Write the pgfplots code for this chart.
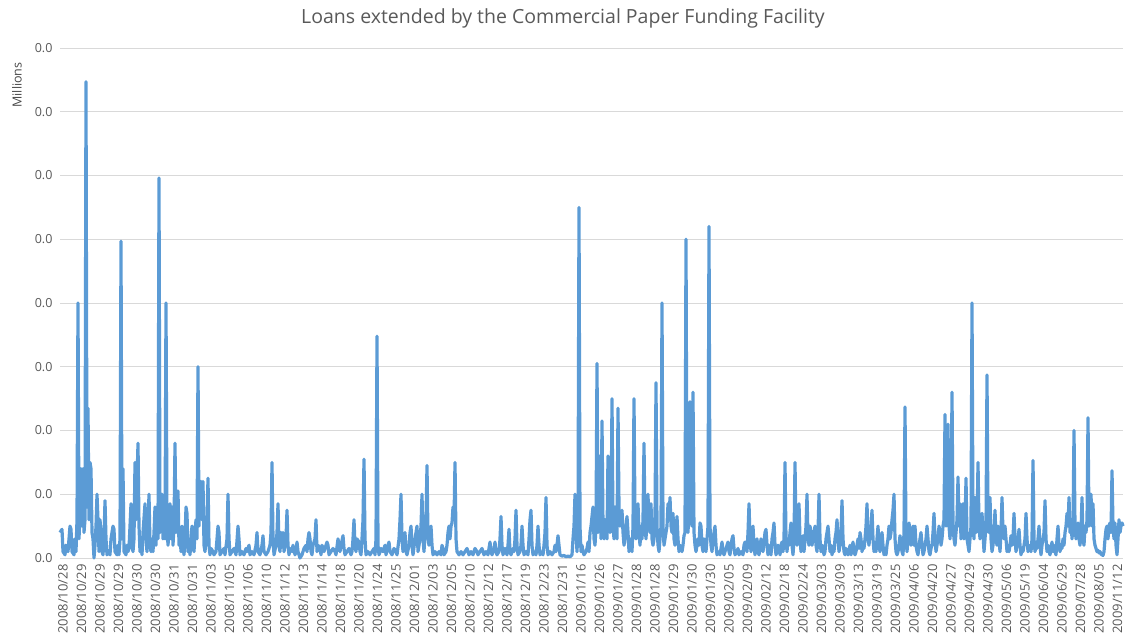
\documentclass[border=0pt]{standalone}
\usepackage{pgfplots}
\pgfplotsset{compat=1.18}
\usepackage{fontspec}
\setmainfont{Open Sans}
\definecolor{lineblue}{HTML}{5B9BD5}
\definecolor{txtgray}{HTML}{595959}
\definecolor{gridgray}{HTML}{D9D9D9}
\begin{document}
\begin{tikzpicture}
\begin{axis}[
  at={(60pt,85pt)}, anchor=south west,
  scale only axis, width=1063pt, height=510pt,
  xmin=60, xmax=1123, ymin=0, ymax=8,
  axis line style={draw=none},
  ytick={0,1,2,3,4,5,6,7,8},
  yticklabels={0.0,0.0,0.0,0.0,0.0,0.0,0.0,0.0,0.0},
  ymajorgrids, grid style={draw=gridgray, line width=0.9pt},
  major tick length=0pt,
  /pgf/number format/assume math mode=true,
  yticklabel style={font=\fontsize{12.5}{14}\selectfont, text=txtgray, xshift=-4pt},
  xtick={63,81.5,100,118.5,137,155.5,174,192.5,211,229.5,248,266.5,285,303.5,322,340.5,359,377.5,396,414.5,433,451.5,470,488.5,507,525.5,544,562.5,581,599.5,618,636.5,655,673.5,692,710.5,729,747.5,766,784.5,803,821.5,840,858.5,877,895.5,914,932.5,951,969.5,988,1006.5,1025,1043.5,1062,1080.5,1099,1117.5},
  xticklabels={2008/10/28,2008/10/29,2008/10/29,2008/10/29,2008/10/30,2008/10/30,2008/10/31,2008/10/31,2008/11/03,2008/11/05,2008/11/06,2008/11/10,2008/11/12,2008/11/13,2008/11/14,2008/11/18,2008/11/20,2008/11/24,2008/11/25,2008/12/01,2008/12/03,2008/12/05,2008/12/10,2008/12/12,2008/12/17,2008/12/19,2008/12/23,2008/12/31,2009/01/16,2009/01/26,2009/01/27,2009/01/28,2009/01/28,2009/01/29,2009/01/30,2009/01/30,2009/02/05,2009/02/09,2009/02/12,2009/02/18,2009/02/24,2009/03/03,2009/03/09,2009/03/13,2009/03/19,2009/03/25,2009/04/06,2009/04/20,2009/04/27,2009/04/29,2009/04/30,2009/05/06,2009/05/19,2009/06/04,2009/06/29,2009/07/28,2009/08/05,2009/11/12},
  xticklabel style={rotate=90, anchor=east, font=\fontsize{13}{15}\selectfont, text=txtgray, xshift=-3pt},
  clip=false,
]
\addplot[lineblue, line width=3.2pt, line join=round, mark=none] coordinates {
(60,0.4)(62,0.45)(63,0.1)(65,0.05)(66,0.2)(68,0.1)(70,0.5)(71,0.45)(72,0.1)(74,0.05)(75,0.3)(76,0.1)(77,0.6)(78,4.0)(79,0.3)(80,0.7)(81,1.4)(82,0.5)(83,1.4)(84,0.4)(85,0.6)(86,7.47)(87,0.8)(88,2.35)(89,0.6)(90,1.5)(91,1.4)(92,0.4)(93,0.3)(94,0.0)(95,0.2)(96,0.5)(97,1.0)(98,0.6)(99,0.1)(100,0.6)(101,0.4)(102,0.1)(103,0.05)(104,0.3)(105,0.9)(106,0.3)(107,0.05)(109,0.1)(110,0.05)(111,0.3)(113,0.5)(114,0.45)(115,0.1)(117,0.05)(118,0.2)(119,0.05)(120,0.3)(121,4.97)(122,0.3)(123,1.4)(124,0.1)(126,0.05)(127,0.2)(128,0.1)(129,0.15)(131,0.85)(132,0.2)(133,0.1)(134,0.3)(135,1.5)(136,0.6)(137,1.2)(138,1.8)(139,0.5)(140,0.1)(141,0.2)(142,0.05)(143,0.4)(145,0.85)(146,0.3)(147,0.1)(148,0.5)(149,1.0)(150,0.2)(151,0.1)(152,0.3)(153,0.1)(154,0.4)(155,0.8)(156,0.2)(157,0.8)(158,0.3)(159,5.96)(160,0.4)(161,0.6)(162,1.0)(163,0.3)(164,0.5)(165,0.3)(166,4.0)(167,0.5)(168,0.2)(169,0.4)(170,0.85)(171,0.3)(172,0.8)(173,0.2)(174,0.5)(175,1.8)(176,0.4)(177,0.6)(178,1.05)(179,0.2)(180,0.4)(181,0.1)(182,0.5)(183,0.2)(184,0.05)(185,0.3)(186,0.8)(187,0.7)(188,0.1)(189,0.2)(190,0.05)(191,0.3)(192,0.5)(193,0.2)(194,0.1)(195,0.4)(196,0.6)(197,0.3)(198,3.0)(199,0.5)(200,1.1)(201,1.2)(202,0.6)(203,1.2)(204,0.2)(205,0.1)(206,0.3)(207,0.6)(208,1.25)(209,0.2)(210,0.05)(211,0.15)(213,0.1)(214,0.05)(216,0.1)(218,0.5)(219,0.4)(220,0.05)(222,0.1)(224,0.15)(225,0.05)(227,0.3)(228,1.0)(229,0.3)(230,0.05)(232,0.1)(234,0.15)(236,0.05)(238,0.5)(239,0.3)(240,0.05)(242,0.1)(244,0.05)(246,0.15)(247,0.1)(249,0.2)(250,0.05)(252,0.1)(254,0.05)(256,0.2)(257,0.4)(258,0.1)(260,0.05)(262,0.2)(263,0.35)(264,0.1)(266,0.05)(268,0.1)(270,0.2)(271,0.4)(272,1.5)(273,0.3)(274,0.05)
(276,0.2)(277,0.4)(278,0.85)(279,0.2)(280,0.1)(281,0.4)(282,0.3)(283,0.4)(284,0.1)(285,0.2)(286,0.3)(287,0.75)(288,0.2)(289,0.05)(290,0.15)(292,0.1)(293,0.2)(295,0.05)(296,0.1)(297,0.25)(298,0.1)(300,0.0)(302,0.05)(304,0.15)(306,0.2)(307,0.1)(308,0.3)(309,0.4)(310,0.3)(311,0.1)(312,0.05)(313,0.2)(315,0.3)(316,0.6)(317,0.1)(318,0.2)(320,0.15)(321,0.05)(322,0.2)(324,0.1)(325,0.15)(327,0.25)(328,0.2)(329,0.05)(331,0.1)(333,0.15)(335,0.1)(336,0.05)(338,0.3)(339,0.2)(340,0.1)(341,0.2)(343,0.35)(344,0.15)(345,0.05)(347,0.1)(349,0.15)(351,0.05)(352,0.1)(353,0.3)(354,0.6)(355,0.2)(356,0.1)(357,0.3)(359,0.25)(360,0.1)(361,0.05)(362,0.3)(363,0.6)(364,1.55)(365,0.3)(366,0.05)(368,0.1)(370,0.05)(372,0.1)(374,0.15)(375,0.05)(376,0.3)(377,3.48)(378,0.2)(379,0.05)(381,0.15)(383,0.1)(385,0.2)(386,0.05)(388,0.2)(389,0.25)(390,0.1)(392,0.05)(394,0.15)(396,0.1)(397,0.05)(399,0.3)(400,0.6)(401,1.0)(402,0.3)(403,0.1)(404,0.2)(405,0.4)(406,0.1)(407,0.05)(409,0.2)(410,0.4)(411,0.5)(412,0.2)(413,0.05)(415,0.3)(416,0.4)(417,0.5)(418,0.1)(419,0.2)(420,0.3)(421,0.5)(422,1.0)(423,0.3)(424,0.1)(425,0.4)(426,0.6)(427,1.45)(428,0.3)(429,0.2)(430,0.4)(431,0.5)(432,0.2)(433,0.05)(435,0.1)(437,0.05)(439,0.1)(441,0.05)(442,0.2)(443,0.15)(444,0.05)(446,0.1)(447,0.2)(448,0.4)(449,0.5)(450,0.3)(451,0.5)(452,0.55)(453,0.8)(454,0.6)(455,1.5)(456,0.3)(457,0.1)(459,0.05)(461,0.1)(463,0.05)(465,0.1)(467,0.15)(469,0.05)(471,0.1)(473,0.05)(475,0.15)(477,0.1)(478,0.05)(480,0.1)(482,0.15)(484,0.05)(486,0.1)(488,0.05)
(490,0.25)(491,0.1)(492,0.05)(494,0.15)(495,0.25)(496,0.1)(497,0.05)(499,0.1)(500,0.3)(501,0.65)(502,0.2)(503,0.05)(505,0.15)(507,0.05)(508,0.2)(509,0.45)(510,0.1)(511,0.05)(513,0.15)(514,0.1)(515,0.3)(516,0.75)(517,0.2)(518,0.05)(520,0.1)(521,0.2)(522,0.5)(523,0.2)(524,0.05)(526,0.1)(528,0.05)(529,0.3)(530,0.6)(531,0.75)(532,0.2)(533,0.05)(535,0.1)(536,0.05)(537,0.2)(538,0.5)(539,0.2)(540,0.05)(542,0.1)(543,0.05)(544,0.2)(545,0.4)(546,0.95)(547,0.2)(548,0.05)(550,0.1)(552,0.05)(554,0.1)(555,0.2)(556,0.1)(557,0.2)(558,0.35)(559,0.2)(560,0.05)(562,0.03)(564,0.04)(566,0.02)(568,0.03)(570,0.02)(572,0.05)(573,0.3)(574,0.5)(575,1.0)(576,0.4)(577,0.1)(578,0.5)(579,5.5)(580,0.5)(581,0.1)(582,0.2)(583,0.1)(584,0.05)(586,0.1)(587,0.15)(588,0.25)(589,0.1)(590,0.4)(591,0.5)(592,0.65)(593,0.8)(594,0.3)(595,0.2)(596,0.5)(597,3.05)(598,0.4)(599,0.9)(600,1.6)(601,0.3)(602,2.15)(603,0.5)(604,0.3)(605,0.6)(606,0.4)(607,0.3)(608,1.6)(609,0.8)(610,0.4)(611,0.5)(612,2.5)(613,0.5)(614,0.3)(615,0.8)(616,0.5)(617,0.3)(618,2.35)(619,0.8)(620,0.5)(621,0.6)(622,0.75)(623,0.4)(624,0.2)(625,0.3)(626,0.5)(627,0.65)(628,0.4)(629,0.1)(630,0.3)(631,0.2)(632,0.1)(633,0.5)(634,2.5)(635,0.6)(636,0.3)(637,0.5)(638,0.85)(639,0.4)(640,0.2)(641,0.5)(642,0.3)(643,0.6)(644,1.8)(645,0.5)(646,0.3)(647,0.6)(648,1.0)(649,0.5)(650,0.4)(651,0.85)(652,0.3)(653,0.2)(654,0.3)(655,0.6)(656,2.75)(657,0.5)(658,0.2)(659,0.1)(660,0.3)(661,0.5)(662,4.0)(663,0.5)(664,0.2)(665,0.3)(666,0.4)(667,0.5)(668,0.85)(669,0.6)(670,0.95)(671,0.5)(672,0.4)(673,0.7)(674,0.3)(675,0.2)(676,0.4)(677,0.65)(678,0.3)(679,0.1)(680,0.2)(681,0.15)(682,0.1)(683,0.2)(684,0.35)(685,0.4)(686,5.0)(687,0.5)(688,0.4)(689,0.8)(690,2.45)(691,0.6)(692,0.5)(693,2.6)(694,0.4)(695,0.2)(696,0.1)(697,0.2)(698,0.3)(699,0.2)(700,0.55)(701,0.5)(702,0.2)
(703,0.1)(704,0.3)(705,0.2)(706,0.1)(707,0.3)(708,0.5)(709,5.2)(710,0.5)(711,0.2)(712,0.1)(713,0.3)(714,0.4)(715,0.5)(716,0.2)(717,0.05)(719,0.1)(720,0.05)(721,0.15)(722,0.25)(723,0.1)(724,0.05)(726,0.15)(727,0.2)(728,0.25)(729,0.1)(730,0.05)(731,0.2)(732,0.3)(733,0.35)(734,0.15)(735,0.05)(737,0.1)(738,0.15)(739,0.05)(741,0.1)(743,0.05)(744,0.2)(745,0.25)(746,0.15)(747,0.1)(748,0.4)(749,0.85)(750,0.3)(751,0.1)(752,0.3)(753,0.5)(754,0.2)(755,0.05)(756,0.2)(757,0.3)(758,0.1)(759,0.05)(760,0.15)(761,0.3)(762,0.2)(763,0.1)(764,0.25)(765,0.4)(766,0.45)(767,0.2)(768,0.05)(769,0.2)(770,0.1)(771,0.05)(772,0.3)(773,0.4)(774,0.55)(775,0.2)(776,0.05)(777,0.1)(778,0.2)(779,0.15)(780,0.05)(781,0.2)(782,0.25)(783,0.1)(784,0.3)(785,1.5)(786,0.3)(787,0.1)(788,0.3)(789,0.2)(790,0.4)(791,0.55)(792,0.2)(793,0.05)(794,0.3)(795,1.5)(796,0.4)(797,0.2)(798,0.5)(799,0.85)(800,0.3)(801,0.1)(802,0.2)(803,0.35)(804,0.1)(805,0.3)(806,0.5)(807,1.0)(808,0.3)(809,0.2)(810,0.5)(811,0.4)(812,0.2)(813,0.3)(814,0.4)(815,0.5)(816,0.2)(817,0.1)(818,0.4)(819,1.0)(820,0.3)(821,0.1)(822,0.2)(823,0.15)(824,0.05)(825,0.1)(826,0.3)(827,0.4)(828,0.5)(829,0.3)(830,0.1)(831,0.2)(832,0.05)(833,0.15)(834,0.1)(835,0.3)(836,0.4)(837,0.6)(838,0.3)(839,0.1)(840,0.2)(841,0.4)(842,0.9)(843,0.3)(844,0.1)(845,0.05)(846,0.15)(847,0.1)(848,0.05)(849,0.1)(850,0.2)(851,0.05)(852,0.15)(853,0.25)(854,0.1)(855,0.05)(856,0.1)(857,0.2)(858,0.3)(859,0.15)(860,0.4)(861,0.3)(862,0.1)(863,0.2)(864,0.15)(865,0.3)(866,0.5)(867,0.85)(868,0.3)(869,0.2)(870,0.4)(871,0.5)(872,0.75)(873,0.3)(874,0.1)(875,0.2)(876,0.1)(877,0.3)(878,0.5)(879,0.2)(880,0.1)(881,0.3)(882,0.4)(883,0.2)(884,0.05)(885,0.15)(886,0.05)(887,0.2)(888,0.3)(889,0.5)(890,0.3)(891,0.4)(892,0.6)(893,0.75)(894,1.0)(895,0.3)(896,0.1)(897,0.05)(898,0.1)(899,0.2)(900,0.35)(901,0.2)(902,0.1)(903,0.05)(904,0.4)(905,2.37)(906,0.3)(907,0.1)(908,0.3)(909,0.55)(910,0.4)(911,0.2)(912,0.3)(913,0.5)(914,0.2)
(915,0.5)(916,0.2)(917,0.1)(918,0.05)(919,0.2)(920,0.3)(921,0.4)(922,0.2)(923,0.05)(924,0.1)(925,0.2)(926,0.3)(927,0.5)(928,0.3)(929,0.1)(930,0.05)(931,0.15)(932,0.2)(933,0.4)(934,0.7)(935,0.3)(936,0.1)(937,0.2)(938,0.3)(939,0.5)(940,0.4)(941,0.2)(942,0.3)(943,0.5)(944,0.6)(945,2.25)(946,0.5)(947,0.8)(948,2.1)(949,0.5)(950,0.3)(951,0.6)(952,2.6)(953,0.5)(954,0.3)(955,0.2)(956,0.4)(957,0.6)(958,1.27)(959,0.5)(960,0.85)(961,0.3)(962,0.4)(963,0.85)(964,0.3)(965,0.5)(966,1.25)(967,0.3)(968,0.2)(969,0.1)(970,0.3)(971,0.5)(972,4.0)(973,0.5)(974,0.3)(975,0.95)(976,0.4)(977,0.5)(978,1.5)(979,0.5)(980,0.3)(981,0.5)(982,0.7)(983,0.4)(984,0.1)(985,0.3)(986,0.5)(987,2.87)(988,0.5)(989,0.4)(990,0.95)(991,0.3)(992,0.1)(993,0.2)(994,0.4)(995,0.75)(996,0.3)(997,0.2)(998,0.5)(999,0.3)(1000,0.1)(1001,0.4)(1002,0.95)(1003,0.4)(1004,0.3)(1005,0.5)(1006,0.3)(1007,0.1)(1008,0.2)(1009,0.1)(1010,0.2)(1011,0.35)(1012,0.2)(1013,0.3)(1014,0.7)(1015,0.3)(1016,0.1)(1017,0.2)(1018,0.3)(1019,0.45)(1020,0.2)(1021,0.05)(1022,0.15)(1023,0.1)(1024,0.2)(1025,0.3)(1026,0.7)(1027,0.3)(1028,0.1)(1029,0.2)(1030,0.15)(1031,0.1)(1032,0.3)(1033,1.53)(1034,0.3)(1035,0.1)(1036,0.2)(1037,0.15)(1038,0.3)(1039,0.5)(1040,0.2)(1041,0.05)(1042,0.2)(1043,0.3)(1044,0.4)(1045,0.9)(1046,0.3)(1047,0.1)(1048,0.2)(1049,0.1)(1050,0.05)(1051,0.15)(1052,0.25)(1053,0.1)(1054,0.2)(1055,0.1)(1056,0.05)(1057,0.3)(1058,0.5)(1059,0.2)(1060,0.1)(1061,0.2)(1062,0.15)(1063,0.3)(1064,0.2)(1065,0.4)(1066,0.5)(1067,0.7)(1068,0.5)(1069,0.95)(1070,0.4)(1071,0.6)(1072,0.3)(1073,0.5)(1074,2.0)(1075,0.5)(1076,0.3)(1077,0.4)(1078,0.55)(1079,0.3)(1080,0.2)(1081,0.4)(1082,0.95)(1083,0.3)(1084,0.2)(1085,0.5)(1086,0.4)(1087,0.6)(1088,2.2)(1089,0.5)(1090,0.6)(1091,1.0)(1092,0.5)(1093,0.85)(1094,0.3)(1095,0.2)(1096,0.15)(1097,0.1)(1098,0.12)(1099,0.08)(1100,0.1)(1101,0.06)(1102,0.05)(1103,0.04)(1104,0.1)(1105,0.3)(1106,0.45)(1107,0.5)(1108,0.3)(1109,0.5)(1110,0.55)(1111,0.4)(1112,1.37)(1113,0.5)(1114,0.3)(1115,0.55)(1116,0.2)(1117,0.05)(1118,0.3)(1119,0.6)(1120,0.4)(1121,0.5)(1122,0.55)(1123,0.5)
};
\end{axis}
\node[font=\fontsize{19.5}{22}\selectfont, text=txtgray] at ([xshift=503pt,yshift=540pt]current axis.south west) {Loans extended by the Commercial Paper Funding Facility};
\node[rotate=90, font=\fontsize{12.5}{14}\selectfont, text=txtgray!80!black] at ([xshift=-43pt,yshift=473pt]current axis.south west) {Millions};
\pgfresetboundingbox
\path[use as bounding box] ([xshift=-60pt,yshift=-85pt]current axis.south west) rectangle ([xshift=1067pt,yshift=558pt]current axis.south west);
\end{tikzpicture}
\end{document}
